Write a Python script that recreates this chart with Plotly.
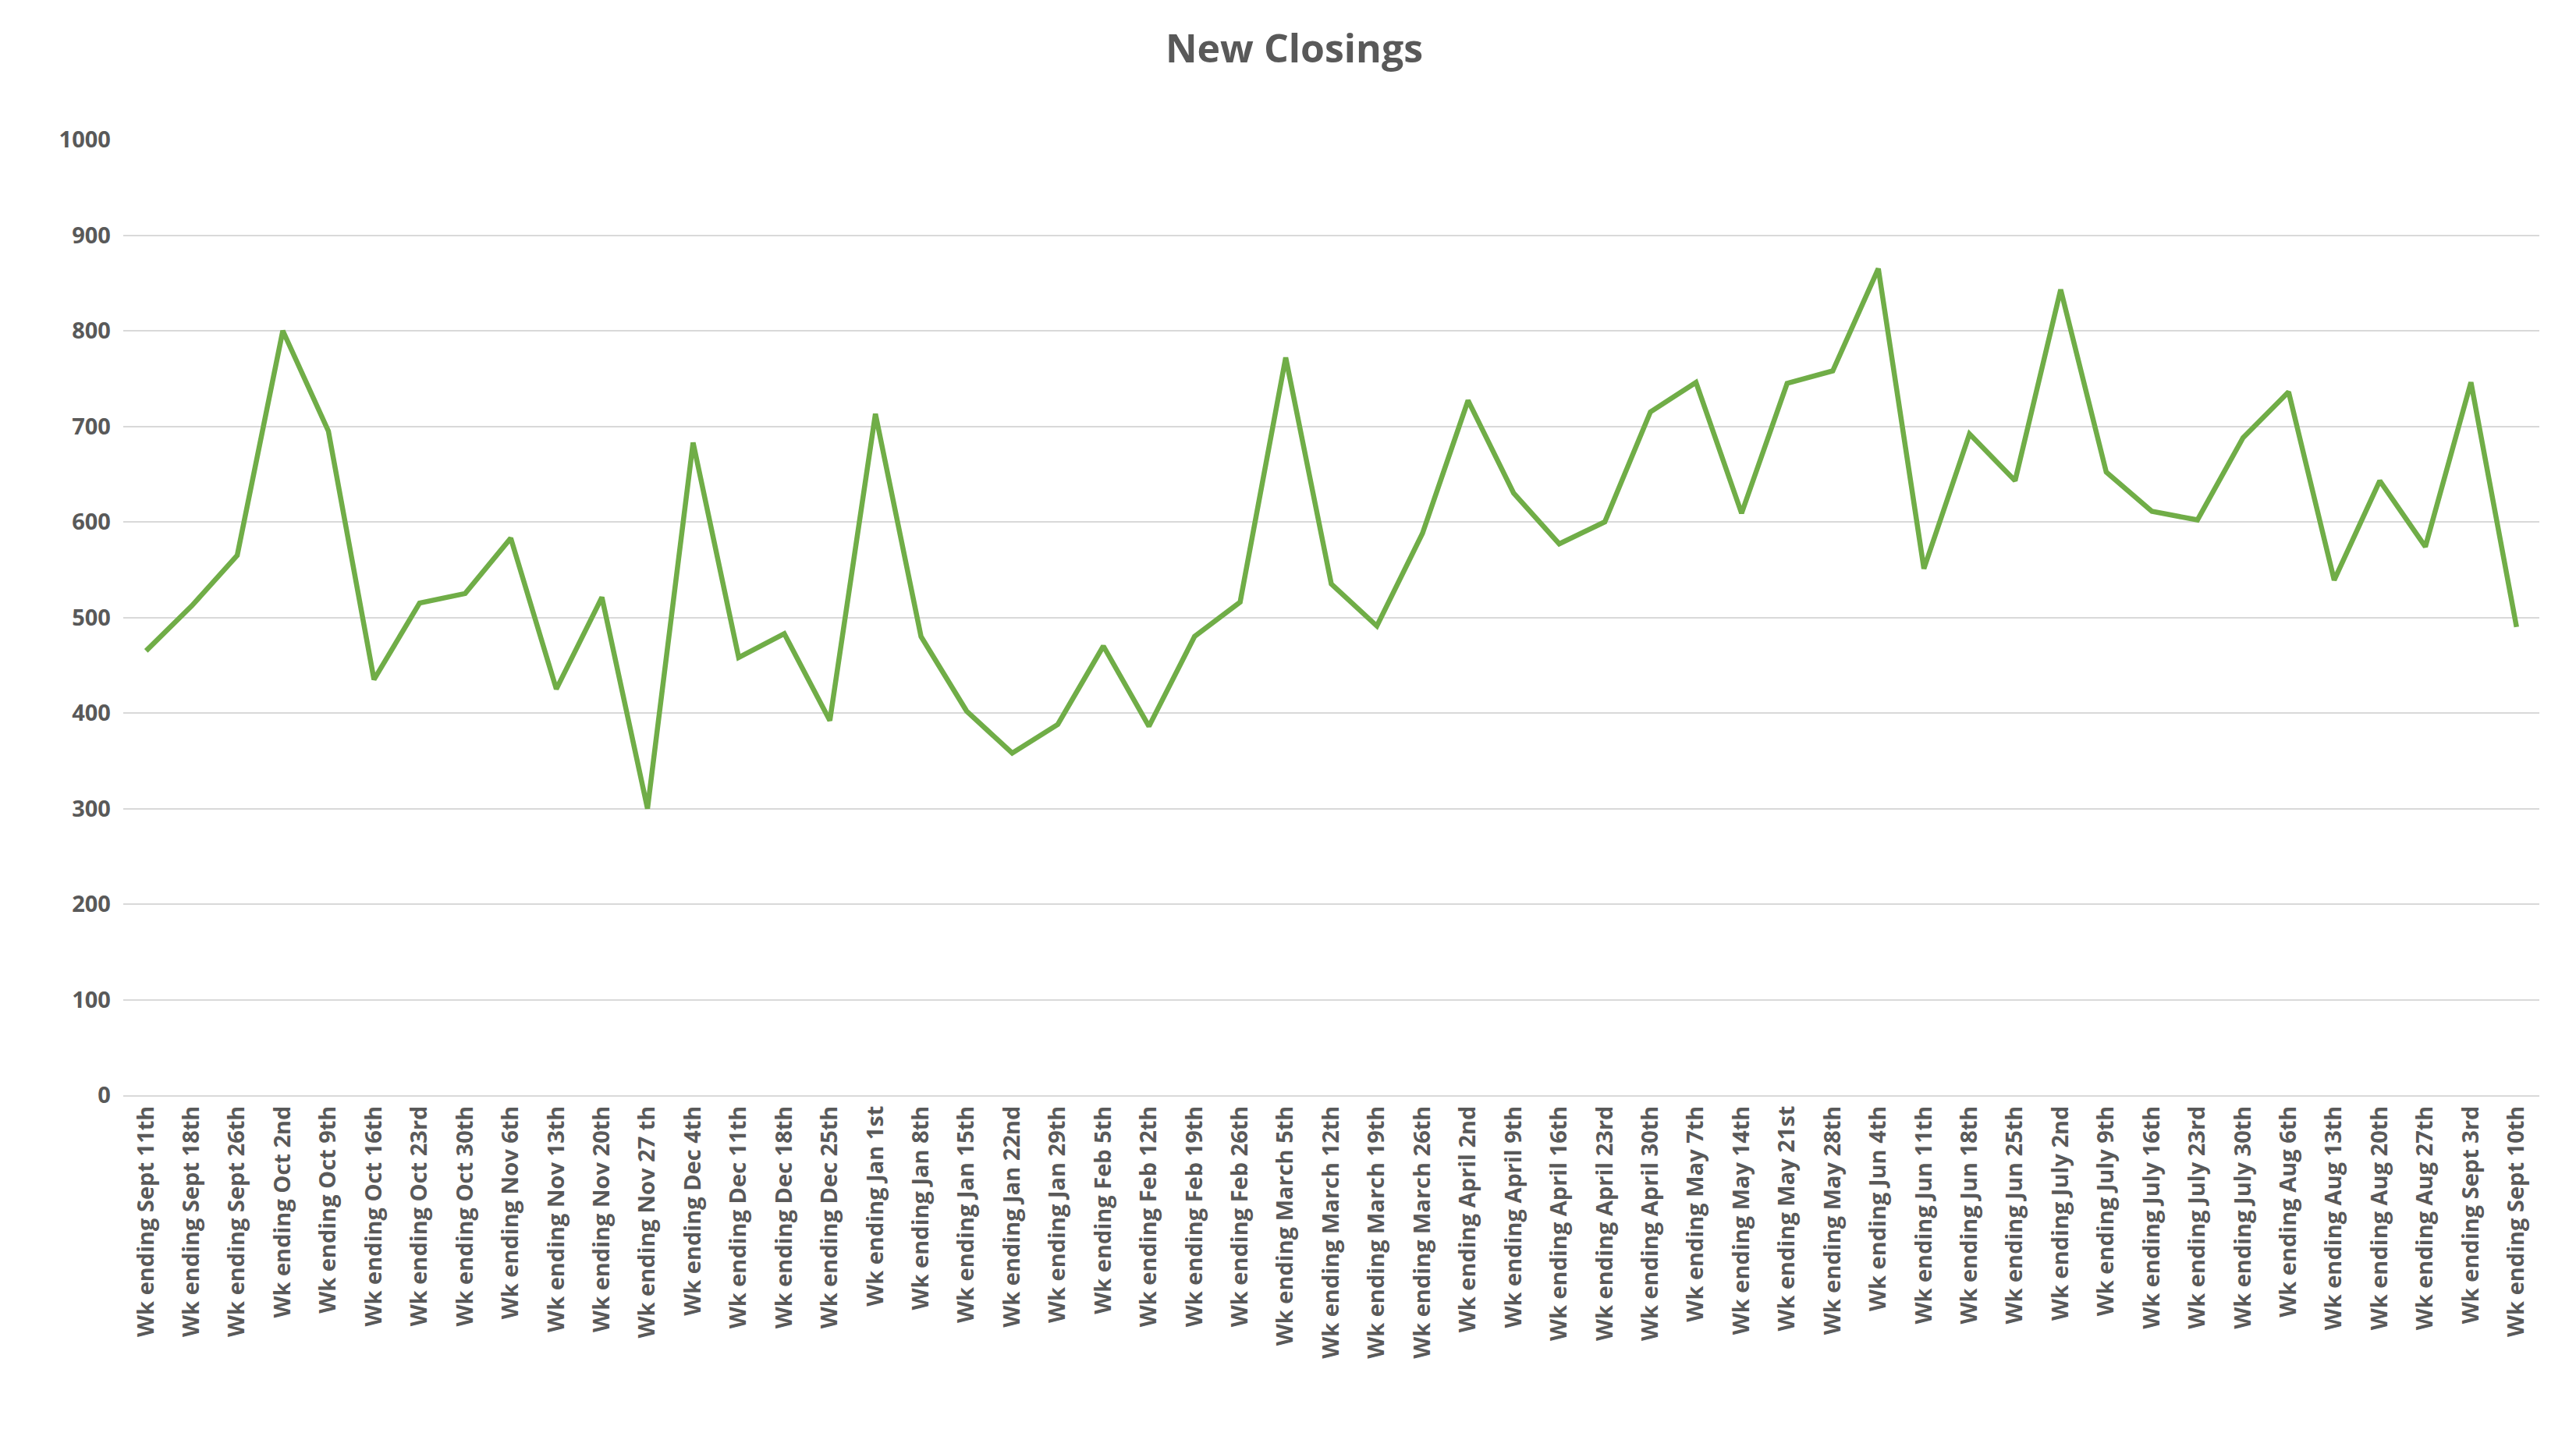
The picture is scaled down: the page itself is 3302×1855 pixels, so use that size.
import plotly.graph_objects as go

weeks = ["Sept 11th","Sept 18th","Sept 26th","Oct 2nd","Oct 9th","Oct 16th","Oct 23rd","Oct 30th",
         "Nov 6th","Nov 13th","Nov 20th","Nov 27 th","Dec 4th","Dec 11th","Dec 18th","Dec 25th",
         "Jan 1st","Jan 8th","Jan 15th","Jan 22nd","Jan 29th","Feb 5th","Feb 12th","Feb 19th","Feb 26th",
         "March 5th","March 12th","March 19th","March 26th","April 2nd","April 9th","April 16th",
         "April 23rd","April 30th","May 7th","May 14th","May 21st","May 28th","Jun 4th","Jun 11th",
         "Jun 18th","Jun 25th","July 2nd","July 9th","July 16th","July 23rd","July 30th","Aug 6th",
         "Aug 13th","Aug 20th","Aug 27th","Sept 3rd","Sept 10th"]
categories = ["Wk ending " + w for w in weeks]
closings = [465, 512, 565, 800, 695, 435, 515, 525, 583, 425, 521, 300, 683, 458, 483, 392,
            713, 480, 402, 358, 388, 470, 386, 480, 516, 772, 535, 491, 588, 727, 630, 577,
            600, 715, 746, 609, 745, 758, 865, 551, 692, 643, 843, 652, 611, 602, 688, 736,
            539, 643, 574, 746, 490]

fig = go.Figure(go.Scatter(x=categories, y=closings, mode="lines",
                           line=dict(color="#70AD47", width=6.5)))
fig.update_layout(
    width=3302, height=1855, paper_bgcolor="white", plot_bgcolor="white",
    margin=dict(l=150, r=55, t=171, b=459),
    title=dict(text="<b>New Closings</b>", x=0.5, xanchor="center", y=0.98, yanchor="top",
               font=dict(family="Open Sans, Calibri, sans-serif", size=50, color="#595959")),
    font=dict(family="Open Sans, Calibri, sans-serif", color="#595959"),
    showlegend=False,
)
fig.update_xaxes(tickangle=-90, tickfont=dict(size=29, color="#595959", weight="bold"),
                 showgrid=False, showline=True, linecolor="#d9d9d9", linewidth=2, ticks="",
                 range=[-0.5, len(categories) - 0.5])
fig.update_yaxes(range=[0, 1000], dtick=100, showgrid=True, gridcolor="#d9d9d9", gridwidth=2,
                 zeroline=False, tickfont=dict(size=29, color="#595959", weight="bold"),
                 ticksuffix="  ")
fig.write_html("out.html")
